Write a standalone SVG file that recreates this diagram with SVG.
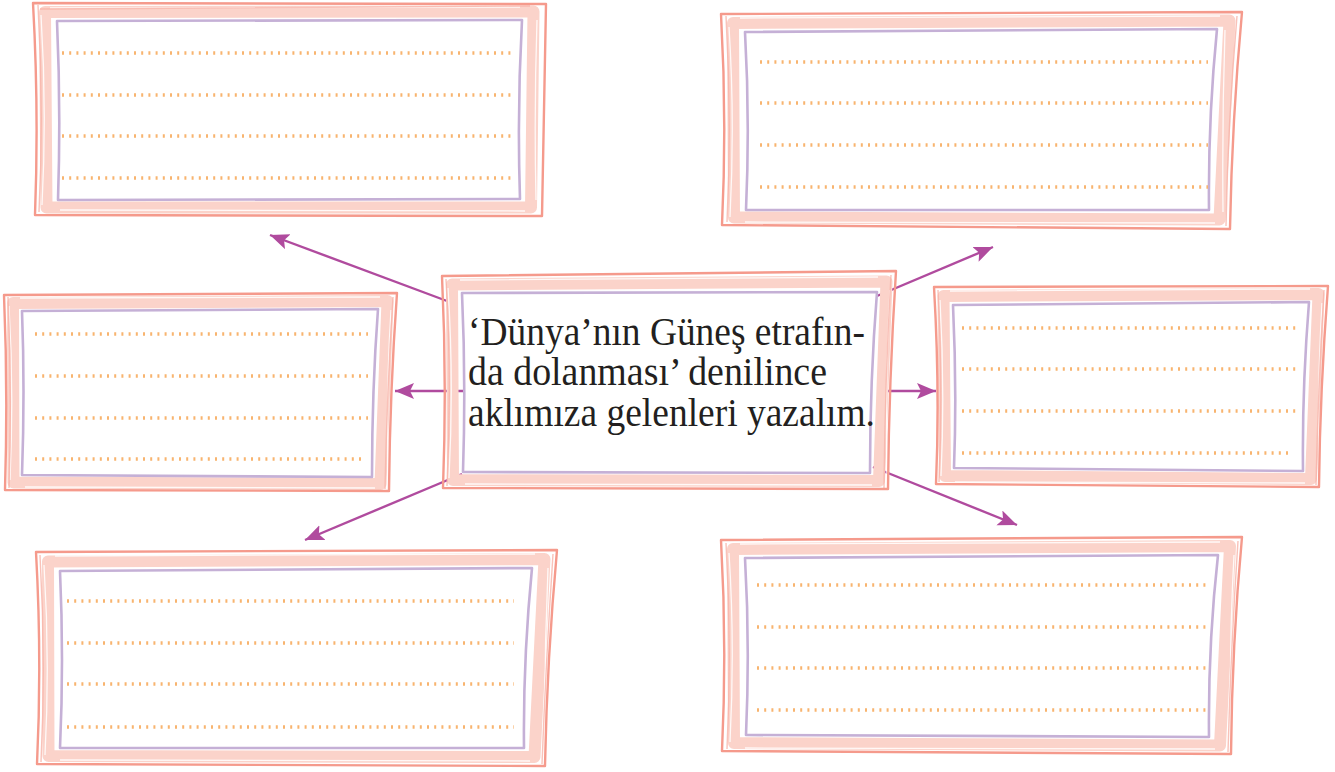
<svg xmlns="http://www.w3.org/2000/svg" width="1335" height="772" viewBox="0 0 1335 772">
<defs>
<style>
.band{fill:none;stroke:#fbd3ca;stroke-width:12;stroke-linejoin:round}
.streak{fill:none;stroke:#ffffff;stroke-width:1.3;opacity:0.85}
.outer{fill:none;stroke:#f59a8c;stroke-width:2.4;stroke-linejoin:round}
.outer2{fill:none;stroke:#f7b3a7;stroke-width:1.4;opacity:0.8}
.inner{fill:#ffffff;stroke:#c5b0d6;stroke-width:2.6;stroke-linejoin:round}
.dots{fill:none;stroke:#f8b46f;stroke-width:3.6;stroke-dasharray:2 5.2}
.conn{fill:none;stroke:#b04b9e;stroke-width:2.4}
.txt{font-family:"Liberation Serif","Times New Roman",serif;font-size:39px;fill:#231f20}
</style>
<marker id="ah" markerUnits="userSpaceOnUse" markerWidth="22" markerHeight="18" refX="19" refY="8" orient="auto">
<path d="M0,0 L19,8 L0,16 L4,8 Z" fill="#b04b9e"/>
</marker>
</defs>
<rect width="1335" height="772" fill="#ffffff"/>

<g id="connectors">
<path class="conn" d="M447,301 L270,235" marker-end="url(#ah)"/>
<path class="conn" d="M877,296 L993,247" marker-end="url(#ah)"/>
<path class="conn" d="M463,391 L395,391" marker-end="url(#ah)"/>
<path class="conn" d="M877,391 L936,391" marker-end="url(#ah)"/>
<path class="conn" d="M462,474 L305,540" marker-end="url(#ah)"/>
<path class="conn" d="M873,467 L1017,525" marker-end="url(#ah)"/>
</g>

<g id="box-top-left">
<path class="band" d="M45,12 L533.5,11.5 L531,207.5 L46.5,207.5 Z"/>
<path class="streak" d="M41,15 Q47,110 42,205 M50,8 L520,7 M60,210 L525,211 M537,20 Q534,110 536,200"/>
<path class="outer2" d="M38,5 Q44,110 39,212 M40,9 L530,6"/>
<path class="outer" d="M33,3 L546,4 L542,216 L35,215 Q39,110 33,3 Z"/>
<path class="inner" d="M57,21 L522,20 Q517,110 520,199 L58,200 Q61,110 57,21 Z"/>
<path class="dots" d="M62,53 H511 M62,95 H511 M62,136 H511 M62,178 H511"/>
</g>

<g id="box-top-right">
<path class="band" d="M733,23 L1229.5,20.5 L1219.5,219.5 L734,217.5 Z"/>
<path class="streak" d="M729,27 Q735,120 730,217 M740,18 L1220,16 M745,222 L1215,223 M1225,30 Q1222,120 1223,212"/>
<path class="outer2" d="M726,16 Q732,120 727,222 M1237,16 Q1228,120 1226,226"/>
<path class="outer" d="M721,14 L1242,12 Q1232,120 1230,229 L722,225 Q727,120 721,14 Z"/>
<path class="inner" d="M745,32 L1217,29 Q1208,120 1209,210 L746,210 Q750,120 745,32 Z"/>
<path class="dots" d="M760,62 H1208 M760,103 H1208 M760,145 H1208 M760,187 H1208"/>
</g>

<g id="box-mid-left">
<path class="band" d="M13,303 L387.5,301 L380.5,484 L13.5,482.5 Z"/>
<path class="streak" d="M9,306 Q14,390 10,480 M20,298 L380,297 M25,487 L375,488 M391,310 Q386,390 388,478"/>
<path class="outer2" d="M8,297 Q12,390 9,488 M393,297 Q387,390 385,489"/>
<path class="outer" d="M4,295 L397,293 Q390,390 389,491 L5,490 Q8,390 4,295 Z"/>
<path class="inner" d="M22,311 L378,309 Q372,390 372,477 L22,475 Q25,390 22,311 Z"/>
<path class="dots" d="M35,334 H368 M35,376 H368 M35,418 H368 M35,459 H361"/>
</g>

<g id="box-mid-right">
<path class="band" d="M943.5,296 L1318.5,294 L1311,479 L945,476 Z"/>
<path class="streak" d="M940,300 Q945,390 941,476 M950,291 L1310,289 M955,482 L1305,483 M1322,303 Q1317,390 1319,475"/>
<path class="outer2" d="M938,290 Q943,390 939,482 M1324,290 Q1318,390 1316,485"/>
<path class="outer" d="M934,287 L1328,286 Q1320,390 1319,487 L936,484 Q940,390 934,287 Z"/>
<path class="inner" d="M953,305 L1309,302 Q1302,390 1303,471 L954,468 Q957,390 953,305 Z"/>
<path class="dots" d="M962,328 H1296 M962,369 H1296 M962,411 H1296 M962,453 H1289"/>
</g>

<g id="box-bottom-left">
<path class="band" d="M48,561.5 L544.5,559 L534.5,757 L48.5,756 Z"/>
<path class="streak" d="M44,565 Q50,660 45,755 M55,556 L535,554 M60,760 L530,761 M548,568 Q544,660 545,752"/>
<path class="outer2" d="M40,555 Q46,660 41,762 M553,554 Q546,660 542,764"/>
<path class="outer" d="M36,552 L557,550 Q547,660 545,766 L37,764 Q42,660 36,552 Z"/>
<path class="inner" d="M60,571 L532,568 Q523,660 524,748 L60,748 Q64,660 60,571 Z"/>
<path class="dots" d="M67,601 H514 M67,643 H514 M67,684 H514 M67,727 H514"/>
</g>

<g id="box-bottom-right">
<path class="band" d="M733,549 L1230,546 L1220,745.5 L734,743 Z"/>
<path class="streak" d="M729,553 Q735,645 730,742 M740,544 L1220,542 M745,748 L1215,749 M1234,555 Q1229,645 1231,740"/>
<path class="outer2" d="M726,543 Q732,645 727,749 M1238,541 Q1231,645 1228,752"/>
<path class="outer" d="M721,540 L1242,537 Q1232,645 1231,754 L722,751 Q727,645 721,540 Z"/>
<path class="inner" d="M745,558 L1218,555 Q1208,645 1209,737 L746,735 Q750,645 745,558 Z"/>
<path class="dots" d="M757,585 H1206 M757,627 H1206 M757,668 H1206 M757,710 H1206"/>
</g>

<g id="box-center">
<path class="band" d="M452,284.5 L886.5,281.5 L879,481 L453,480 Z"/>
<path class="streak" d="M448,288 Q454,380 449,478 M460,280 L878,277 M465,484 L872,485 M890,290 Q885,380 887,480"/>
<path class="outer2" d="M446,279 Q452,380 447,486 M891,275 Q885,380 884,488"/>
<path class="outer" d="M442,276 L896,271 Q889,380 888,489 L443,488 Q447,380 442,276 Z"/>
<path class="inner" d="M462,293 L877,292 Q870,380 870,473 L463,472 Q466,380 462,293 Z"/>
<text class="txt" x="468" y="345" textLength="397" lengthAdjust="spacingAndGlyphs">‘Dünya’nın Güneş etrafın-</text>
<text class="txt" x="468" y="385" textLength="359" lengthAdjust="spacingAndGlyphs">da dolanması’ denilince</text>
<text class="txt" x="468" y="426" textLength="407" lengthAdjust="spacingAndGlyphs">aklımıza gelenleri yazalım.</text>
</g>
</svg>
